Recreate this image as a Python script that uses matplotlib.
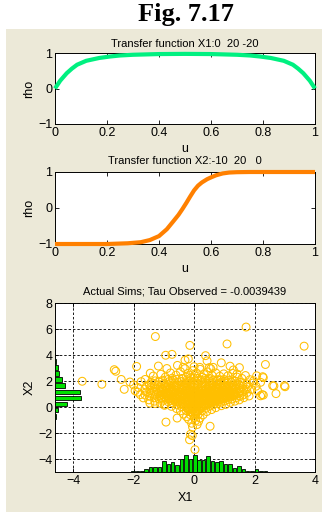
import numpy as np
import matplotlib
matplotlib.use("Agg")
import matplotlib.pyplot as plt
from matplotlib.patches import Rectangle

plt.rcParams["font.family"] = ["Liberation Sans", "DejaVu Sans"]

# transfer function curves
u1 = [0, 0.02, 0.045, 0.065, 0.085, 0.12, 0.17, 0.21, 0.25, 0.3, 0.4, 0.5,
      0.6, 0.7, 0.75, 0.79, 0.83, 0.88, 0.915, 0.935, 0.955, 0.98, 1.0]
rho1 = [0, 0.22, 0.43, 0.56, 0.67, 0.78, 0.86, 0.9, 0.93, 0.95, 0.97, 0.975,
        0.97, 0.95, 0.93, 0.9, 0.86, 0.78, 0.67, 0.56, 0.43, 0.22, 0]

u2 = [0, 0.1, 0.2, 0.28, 0.33, 0.365, 0.4, 0.43, 0.455, 0.475, 0.49, 0.505,
      0.52, 0.535, 0.55, 0.565, 0.585, 0.6, 0.62, 0.645, 0.67, 0.7, 0.75,
      0.8, 0.9, 1.0]
rho2 = [-1, -1, -1, -0.98, -0.95, -0.89, -0.78, -0.59, -0.37, -0.19, -0.03,
        0.14, 0.32, 0.49, 0.62, 0.71, 0.8, 0.85, 0.91, 0.96, 0.985, 0.995,
        1, 1, 1, 1]

title1 = "Transfer function X1:0  20 -20"
title2 = "Transfer function X2:-10  20   0"
title3 = "Actual Sims; Tau Observed = -0.0039439"

# simulated pairs (X1, X2): dense core
core_pts = [
    (-1.62, 0.92), (-1.58, 1.15), (-1.63, 1.38), (-1.57, 1.61),
    (-1.47, 0.82), (-1.43, 1.04), (-1.46, 1.27), (-1.44, 1.5), (-1.48, 1.72), (-1.42, 1.9),
    (-1.31, 0.71), (-1.28, 0.93), (-1.33, 1.14), (-1.27, 1.36), (-1.3, 1.58), (-1.32, 1.8), (-1.29, 2.01),
    (-1.16, 0.62), (-1.13, 0.83), (-1.17, 1.05), (-1.14, 1.26), (-1.12, 1.48), (-1.18, 1.7), (-1.15, 1.92),
    (-1.01, 0.52), (-0.98, 0.74), (-1.03, 0.95), (-0.99, 1.17), (-1.02, 1.38), (-0.97, 1.6), (-1.0, 1.83), (-1.04, 2.06),
    (-0.86, 0.41), (-0.83, 0.63), (-0.87, 0.85), (-0.84, 1.06), (-0.82, 1.28), (-0.88, 1.5), (-0.85, 1.72), (-0.83, 1.95), (-0.86, 2.12),
    (-0.71, 0.32), (-0.68, 0.54), (-0.72, 0.75), (-0.69, 0.97), (-0.7, 1.19), (-0.73, 1.4), (-0.67, 1.62), (-0.71, 1.84), (-0.69, 2.05), (-0.72, 2.22),
    (-0.56, 0.16), (-0.53, 0.38), (-0.57, 0.6), (-0.54, 0.82), (-0.55, 1.03), (-0.58, 1.25), (-0.52, 1.47), (-0.56, 1.69), (-0.54, 1.9), (-0.57, 2.13),
    (-0.41, 0.02), (-0.38, 0.24), (-0.42, 0.45), (-0.39, 0.67), (-0.4, 0.88), (-0.43, 1.1), (-0.37, 1.31), (-0.41, 1.53), (-0.39, 1.75), (-0.42, 1.96), (-0.4, 2.2),
    (-0.26, -0.28), (-0.23, -0.06), (-0.27, 0.15), (-0.24, 0.37), (-0.25, 0.58), (-0.28, 0.8), (-0.22, 1.01), (-0.26, 1.23), (-0.24, 1.45), (-0.27, 1.66), (-0.25, 1.88), (-0.23, 2.1), (-0.26, 2.3),
    (-0.13, -0.58), (-0.1, -0.36), (-0.14, -0.14), (-0.11, 0.07), (-0.12, 0.29), (-0.15, 0.5), (-0.09, 0.72), (-0.13, 0.93), (-0.11, 1.15), (-0.14, 1.37), (-0.12, 1.58), (-0.1, 1.8), (-0.13, 2.02), (-0.11, 2.24), (-0.14, 2.42),
    (0.01, -0.82), (-0.02, -0.6), (0.02, -0.38), (-0.01, -0.16), (0.0, 0.05), (0.03, 0.27), (-0.03, 0.48), (0.01, 0.7), (-0.01, 0.92), (0.02, 1.13), (0.0, 1.35), (-0.02, 1.56), (0.01, 1.78), (0.03, 2.0), (-0.01, 2.21), (0.02, 2.4),
    (0.13, -0.6), (0.1, -0.38), (0.14, -0.16), (0.11, 0.05), (0.12, 0.27), (0.15, 0.48), (0.09, 0.7), (0.13, 0.91), (0.11, 1.13), (0.14, 1.34), (0.12, 1.56), (0.1, 1.77), (0.13, 1.99), (0.11, 2.2),
    (0.26, -0.3), (0.23, -0.08), (0.27, 0.13), (0.24, 0.35), (0.25, 0.56), (0.28, 0.78), (0.22, 0.99), (0.26, 1.21), (0.24, 1.42), (0.27, 1.64), (0.25, 1.86), (0.23, 2.07), (0.26, 2.28),
    (0.39, -0.1), (0.36, 0.12), (0.4, 0.33), (0.37, 0.55), (0.38, 0.76), (0.41, 0.98), (0.35, 1.19), (0.39, 1.41), (0.37, 1.63), (0.4, 1.84), (0.38, 2.05), (0.36, 2.2),
    (0.51, 0.06), (0.48, 0.28), (0.52, 0.5), (0.49, 0.71), (0.5, 0.93), (0.53, 1.14), (0.47, 1.36), (0.51, 1.57), (0.49, 1.79), (0.52, 2.0), (0.5, 2.2),
    (0.63, 0.16), (0.6, 0.38), (0.64, 0.6), (0.61, 0.81), (0.62, 1.03), (0.65, 1.24), (0.59, 1.46), (0.63, 1.67), (0.61, 1.88), (0.64, 2.08),
    (0.76, 0.26), (0.73, 0.48), (0.77, 0.7), (0.74, 0.91), (0.75, 1.13), (0.78, 1.34), (0.72, 1.56), (0.76, 1.77), (0.74, 1.98), (0.77, 2.1),
    (0.89, 0.36), (0.86, 0.58), (0.9, 0.79), (0.87, 1.01), (0.88, 1.22), (0.91, 1.44), (0.85, 1.65), (0.89, 1.87), (0.87, 2.08),
    (1.01, 0.46), (0.98, 0.68), (1.02, 0.89), (0.99, 1.11), (1.0, 1.32), (1.03, 1.54), (0.97, 1.75), (1.01, 1.97), (0.99, 2.12),
    (1.13, 0.56), (1.1, 0.78), (1.14, 0.99), (1.11, 1.21), (1.12, 1.42), (1.15, 1.64), (1.09, 1.85), (1.13, 2.06),
    (1.26, 0.62), (1.23, 0.84), (1.27, 1.05), (1.24, 1.27), (1.25, 1.48), (1.28, 1.7), (1.22, 1.91), (1.26, 2.1),
    (1.39, 0.72), (1.36, 0.94), (1.4, 1.15), (1.37, 1.37), (1.38, 1.58), (1.41, 1.8), (1.35, 2.0),
    (1.51, 0.82), (1.48, 1.04), (1.52, 1.25), (1.49, 1.47), (1.5, 1.68), (1.53, 1.9),
    (1.63, 0.93), (1.6, 1.15), (1.64, 1.36), (1.61, 1.58), (1.62, 1.8),
    (1.76, 1.12), (1.73, 1.35), (1.77, 1.56), (1.74, 1.78),
    (-1.08, 0.72), (-1.06, 0.95), (-1.09, 1.18), (-1.07, 1.41),
    (-0.93, 0.62), (-0.91, 0.85), (-0.94, 1.08), (-0.92, 1.31), (-0.9, 1.55),
    (-0.78, 0.5), (-0.76, 0.73), (-0.79, 0.96), (-0.77, 1.19), (-0.8, 1.42),
    (-0.62, 0.4), (-0.6, 0.63), (-0.63, 0.86), (-0.61, 1.09), (-0.64, 1.32), (-0.6, 1.56),
    (-0.47, 0.27), (-0.45, 0.5), (-0.48, 0.73), (-0.46, 0.96), (-0.49, 1.19), (-0.44, 1.42),
    (-0.32, 0.1), (-0.3, 0.33), (-0.33, 0.56), (-0.31, 0.79), (-0.34, 1.02), (-0.29, 1.25), (-0.32, 1.5),
    (-0.18, -0.2), (-0.16, 0.03), (-0.19, 0.26), (-0.17, 0.49), (-0.2, 0.72), (-0.15, 0.95), (-0.18, 1.2),
    (-0.06, -0.45), (-0.04, -0.22), (-0.07, 0.01), (-0.05, 0.24), (-0.08, 0.47), (-0.03, 0.7), (-0.06, 0.94), (-0.05, 1.22),
    (0.06, -0.5), (0.08, -0.27), (0.05, -0.04), (0.07, 0.19), (0.04, 0.42), (0.09, 0.65), (0.06, 0.88), (0.07, 1.14),
    (0.18, -0.2), (0.2, 0.03), (0.17, 0.26), (0.19, 0.49), (0.16, 0.72), (0.21, 0.95), (0.18, 1.2),
    (0.31, 0.05), (0.33, 0.28), (0.3, 0.51), (0.32, 0.74), (0.29, 0.97), (0.34, 1.22),
    (0.44, 0.2), (0.46, 0.43), (0.43, 0.66), (0.45, 0.89), (0.42, 1.12), (0.47, 1.37),
    (0.56, 0.3), (0.58, 0.53), (0.55, 0.76), (0.57, 0.99), (0.54, 1.22), (0.59, 1.46),
    (0.69, 0.4), (0.71, 0.63), (0.68, 0.86), (0.7, 1.09), (0.67, 1.32), (0.72, 1.56),
    (0.81, 0.5), (0.83, 0.73), (0.8, 0.96), (0.82, 1.19), (0.79, 1.42), (0.84, 1.66),
    (0.94, 0.6), (0.96, 0.83), (0.93, 1.06), (0.95, 1.29), (0.92, 1.52),
    (1.06, 0.7), (1.08, 0.93), (1.05, 1.16), (1.07, 1.39), (1.04, 1.62),
    (1.19, 0.78), (1.21, 1.01), (1.18, 1.24), (1.2, 1.47),
    (1.31, 0.88), (1.33, 1.11), (1.3, 1.34), (1.32, 1.57),
]

# looser points round the edge of the core
fringe_pts = [
    (-1.62, 2.12), (-1.35, 2.38), (-1.1, 2.52), (-0.95, 2.3), (-0.78, 2.62), (-0.6, 2.45),
    (-0.45, 2.72), (-0.2, 2.58), (-0.05, 2.8), (0.08, 2.62), (0.2, 2.9), (0.33, 2.5),
    (0.45, 2.7), (0.6, 2.42), (0.72, 2.62), (0.85, 2.36), (0.98, 2.55), (1.12, 2.4),
    (1.28, 2.58), (1.42, 2.3), (1.58, 2.2), (1.7, 2.42), (1.85, 2.1), (1.95, 1.85),
    (2.05, 1.6), (1.9, 1.35), (2.1, 1.25), (2.2, 1.9), (-1.75, 1.95), (-1.85, 1.5),
    (-1.95, 1.25), (-2.0, 1.7), (-1.78, 0.95), (-1.68, 0.7), (-1.5, 0.55), (-1.3, 0.45),
    (-1.12, 0.3), (-0.95, 0.2), (-0.75, 0.05), (-0.58, -0.12), (-0.45, -0.3), (-0.35, -0.55),
    (-0.25, -0.75), (-0.18, -0.95), (0.05, -1.05), (0.2, -0.85), (0.3, -0.6), (0.42, -0.35),
    (0.58, -0.2), (0.72, -0.05), (0.9, 0.1), (1.05, 0.2), (1.2, 0.35), (1.35, 0.45),
    (1.5, 0.55), (1.65, 0.72), (1.82, 0.85), (-0.08, -1.25), (0.1, -1.35), (-0.05, -1.55),
    (0.15, -1.1), (-0.3, 2.95), (0.55, 2.95), (-1.45, 2.6), (1.3, 2.85), (-0.55, 3.2),
    (0.0, 3.1),
]

outlier_pts = [
    (1.72, 6.15), (-1.28, 5.42), (1.09, 4.85), (-0.14, 4.74), (3.64, 4.68), (-0.73, 4.05),
    (-0.94, 3.98), (0.38, 3.95), (0.43, 3.55), (-0.3, 3.6), (-0.19, 3.7), (0.9, 3.4),
    (0.5, 3.03), (1.19, 3.14), (2.36, 3.27), (1.5, 3.03), (-2.64, 2.87), (-2.59, 2.75),
    (-1.9, 3.12), (-1.18, 3.15), (-0.9, 2.96), (-3.7, 1.98), (-3.05, 1.75), (-2.41, 2.12),
    (-2.31, 1.36), (-2.12, 1.92), (-1.87, 1.14), (3.01, 1.56), (2.64, 1.62), (2.71, 1.03),
    (2.29, 0.92), (2.2, 0.86), (2.07, 2.4), (2.29, 2.26), (1.97, 2.02), (-0.93, -1.16),
    (-0.56, -0.85), (0.53, -1.48), (-0.12, -2.1), (-0.06, -2.2), (-0.15, -2.52), (0.03, -3.28),
    (-1.29, 0.27), (-0.98, 0.13), (-1.46, 0.3), (0.63, 3.05), (0.19, 3.05), (-0.36, 3.05),
    (1.42, 2.54), (2.27, 2.33), (2.6, 1.64), (2.99, 1.64), (2.25, 0.95),
]

# marginal histograms (bin counts)
x1_bin_start, x1_bin_width = -3.7, 0.146
x1_counts = [1, 0, 0, 0, 1, 0, 1, 1, 1, 1, 1, 2, 5, 2, 9, 16, 16, 16, 37, 28,
             35, 23, 44, 60, 46, 60, 40, 40, 54, 37, 35, 37, 26, 28, 14, 19, 9, 5, 2, 9,
             5, 2, 1, 1, 1, 1, 0, 0, 0, 1]
x2_bin_start, x2_bin_width = -3.3, 0.47
x2_counts = [1, 1, 2, 3, 5, 13, 33, 117, 257, 247, 100, 67, 40, 30, 10, 3, 2, 1, 0, 1]

BEIGE = "#ECE9D8"
TICK_FS = 9
TITLE_FS = 8

fig = plt.figure(figsize=(3.22, 5.12), dpi=100)
fig.patch.set_facecolor("white")
fig.add_artist(Rectangle((6 / 322, 0), 1, 1 - 29 / 512, transform=fig.transFigure,
                         facecolor=BEIGE, edgecolor="none", zorder=0))
fig.text(186 / 322, 1 - 15 / 512, "Fig. 7.17", ha="center", va="center",
         fontsize=19, fontweight="bold", family="Liberation Serif")


def style_axes(ax):
    ax.set_facecolor("white")
    ax.tick_params(direction="in", top=True, right=True, labelsize=TICK_FS,
                   length=3, width=0.6, pad=2)
    for sp in ax.spines.values():
        sp.set_linewidth(0.7)


ax1 = fig.add_axes([55 / 322, 1 - 124 / 512, 260 / 322, 71 / 512])
ax1.plot(u1, rho1, color="#00F080", lw=3, solid_capstyle="butt", clip_on=False, zorder=5)
ax1.set_xlim(0, 1)
ax1.set_ylim(-1, 1)
ax1.set_xticks([0, 0.2, 0.4, 0.6, 0.8, 1])
ax1.set_xticklabels(["0", "0.2", "0.4", "0.6", "0.8", "1"])
ax1.set_yticks([-1, 0, 1])
ax1.set_title(title1, fontsize=TITLE_FS, pad=4.5)
ax1.set_xlabel("u", fontsize=TICK_FS, labelpad=3)
ax1.set_ylabel("rho", fontsize=TICK_FS, labelpad=2)
style_axes(ax1)

ax2 = fig.add_axes([55 / 322, 1 - 244 / 512, 260 / 322, 72 / 512])
ax2.plot(u2, rho2, color="#FF8000", lw=3, solid_capstyle="butt", clip_on=False, zorder=5)
ax2.set_xlim(0, 1)
ax2.set_ylim(-1, 1)
ax2.set_xticks([0, 0.2, 0.4, 0.6, 0.8, 1])
ax2.set_xticklabels(["0", "0.2", "0.4", "0.6", "0.8", "1"])
ax2.set_yticks([-1, 0, 1])
ax2.set_title(title2, fontsize=TITLE_FS, pad=5.5)
ax2.set_xlabel("u", fontsize=TICK_FS, labelpad=3)
ax2.set_ylabel("rho", fontsize=TICK_FS, labelpad=2)
style_axes(ax2)

ax3 = fig.add_axes([55 / 322, 1 - 472 / 512, 260 / 322, 169 / 512])
ax3.set_xlim(-4.6, 4)
ax3.set_ylim(-5, 8)
ax3.set_xticks([-4, -2, 0, 2, 4])
ax3.set_yticks([-4, -2, 0, 2, 4, 6, 8])
ax3.grid(True, color="0.1", linestyle=(0, (2.5, 2)), linewidth=0.7)
ax3.set_axisbelow(True)

x1_centers = x1_bin_start + x1_bin_width * (np.arange(len(x1_counts)) + 0.5)
x1_scale = 1.34 / max(x1_counts)
ax3.bar(x1_centers, np.array(x1_counts) * x1_scale, width=x1_bin_width * 0.8,
        bottom=-5, color="#00E000", edgecolor="black", linewidth=0.6, zorder=3)

x2_centers = x2_bin_start + x2_bin_width * (np.arange(len(x2_counts)) + 0.5)
x2_scale = 0.85 / max(x2_counts)
ax3.barh(x2_centers, np.array(x2_counts) * x2_scale, height=x2_bin_width * 0.75,
         left=-4.6, color="#00E000", edgecolor="black", linewidth=0.6, zorder=3)

pts = np.array(core_pts + fringe_pts + outlier_pts)
ax3.scatter(pts[:, 0], pts[:, 1], s=32, facecolors="none", edgecolors="#FFBF00",
            linewidths=0.75, zorder=4)
ax3.set_title(title3, fontsize=TITLE_FS, pad=6)
ax3.set_xlabel("X1", fontsize=TICK_FS, labelpad=4)
ax3.set_ylabel("X2", fontsize=TICK_FS, labelpad=1.5)
style_axes(ax3)

fig.savefig("out.png", dpi=100)
